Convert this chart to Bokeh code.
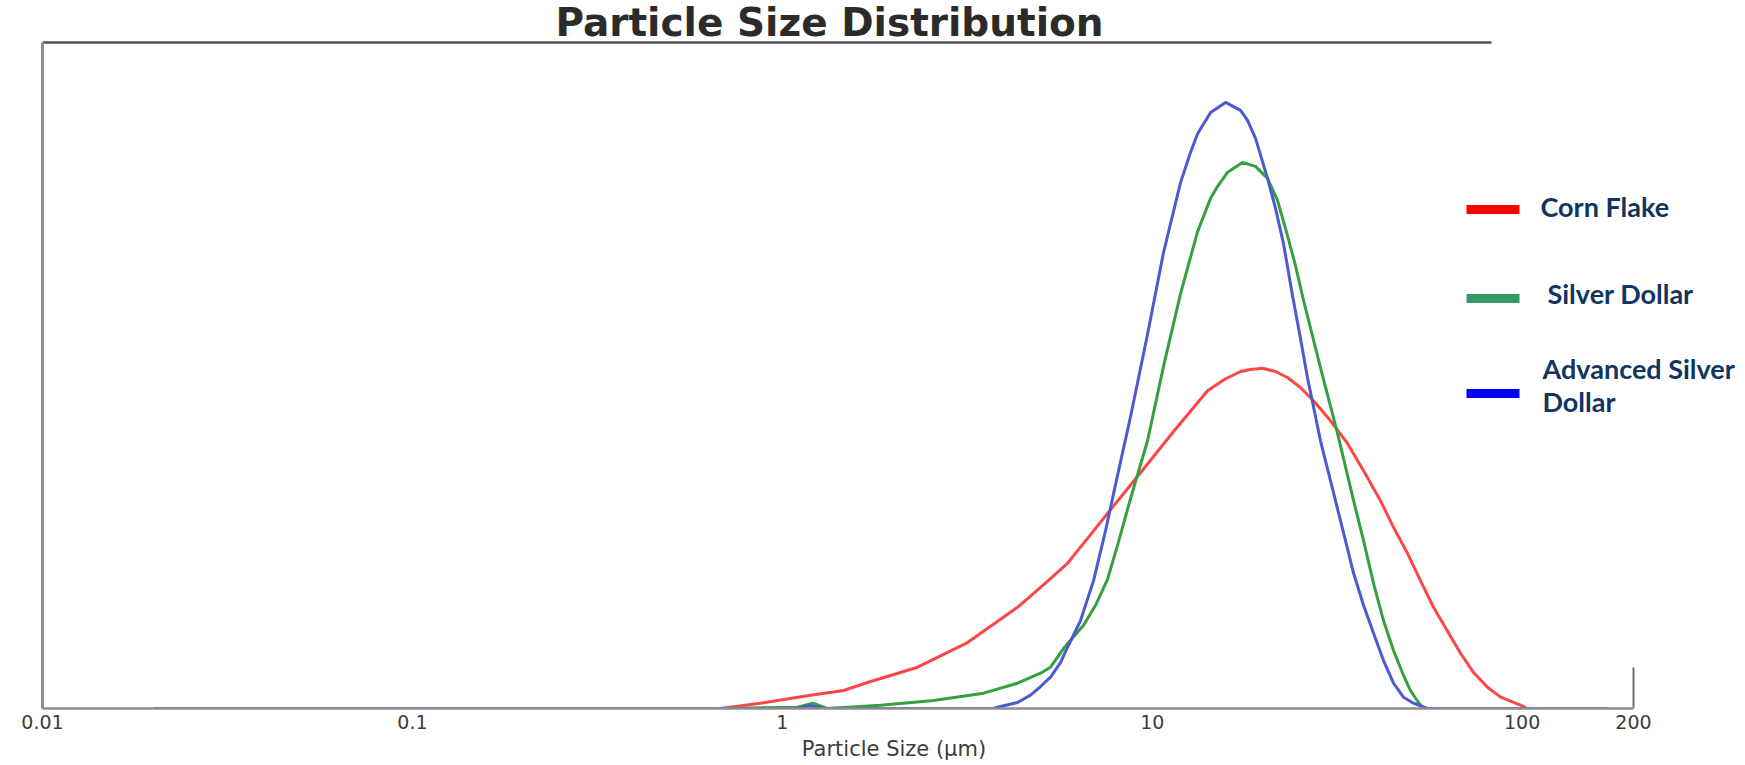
import math
from bokeh.plotting import figure
from bokeh.models import Range1d, FixedTicker, Label, BoxAnnotation
from bokeh.embed import file_html
from bokeh.resources import INLINE

# ---------------- data ----------------
title_text = "Particle Size Distribution"
x_axis_title = "Particle Size (µm)"
tick_values = [0.01, 0.1, 1, 10, 100, 200]
tick_labels = ["0.01", "0.1", "1", "10", "100", "200"]

series_names = ["Corn Flake", "Silver Dollar", "Advanced Silver Dollar"]
series_colors = ["#ff4646", "#35a03f", "#4a5ad2"]
legend_colors = ["#ff0000", "#339966", "#0000ff"]

# particle size (µm) and volume (%)
corn_flake_size = [0.681, 0.873, 1.192, 1.464, 1.699, 2.321, 3.167, 4.323, 4.989, 5.902,
                   6.812, 7.571, 9.296, 11.42, 14.11, 15.78, 17.33, 18.44, 19.87, 21.54,
                   23.21, 25.16, 27.29, 30.34, 33.72, 37.26, 41.41, 44.90, 48.98, 53.10,
                   57.58, 62.84, 68.14, 73.90, 80.62, 87.43, 99.0, 103.4]
corn_flake_vol = [0.0, 0.08, 0.20, 0.27, 0.39, 0.62, 0.99, 1.52, 1.82, 2.18,
                  2.61, 2.93, 3.54, 4.16, 4.77, 4.95, 5.06, 5.09, 5.11, 5.06,
                  4.97, 4.82, 4.62, 4.32, 3.98, 3.57, 3.12, 2.72, 2.33, 1.92,
                  1.52, 1.16, 0.83, 0.54, 0.32, 0.17, 0.05, 0.0]

silver_dollar_size = [0.681, 1.10, 1.21, 1.32, 1.843, 2.563, 3.499, 4.323, 4.989, 5.309,
                      5.756, 6.521, 7.027, 7.571, 8.057, 8.736, 9.712, 10.73, 11.93, 13.26,
                      14.38, 15.02, 15.98, 17.54, 19.02, 20.50, 21.81, 23.21, 24.39, 25.64,
                      28.50, 31.69, 35.02, 37.26, 39.65, 42.19, 44.90, 47.77, 49.90, 52.44,
                      54.11]
silver_dollar_vol = [0.0, 0.02, 0.08, 0.0, 0.05, 0.12, 0.23, 0.38, 0.53, 0.62,
                     0.90, 1.25, 1.55, 1.94, 2.45, 3.15, 4.02, 5.14, 6.23, 7.16,
                     7.66, 7.84, 8.05, 8.20, 8.14, 7.96, 7.63, 7.10, 6.65, 6.13,
                     5.12, 4.13, 3.12, 2.52, 1.88, 1.32, 0.87, 0.50, 0.27, 0.09,
                     0.0]

adv_silver_size = [0.02, 0.681, 1.10, 1.19, 1.30, 3.72, 3.889, 4.323, 4.688, 4.989,
                   5.309, 5.650, 5.902, 6.400, 6.940, 7.478, 8.057, 8.736, 9.712, 10.73,
                   11.93, 12.69, 13.26, 14.38, 15.78, 17.33, 18.10, 19.02, 20.50, 21.54,
                   22.64, 23.94, 25.16, 26.28, 28.50, 30.90, 33.30, 35.02, 37.26, 39.65,
                   42.19, 44.90, 47.77, 50.84, 55.47, 171.0]
adv_silver_vol = [0.0, 0.0, 0.0, 0.04, 0.0, 0.0, 0.03, 0.09, 0.20, 0.33,
                  0.47, 0.69, 0.92, 1.32, 1.92, 2.67, 3.50, 4.38, 5.62, 6.85,
                  7.90, 8.35, 8.63, 8.95, 9.10, 8.98, 8.83, 8.56, 7.96, 7.51,
                  6.98, 6.20, 5.56, 4.97, 4.02, 3.24, 2.52, 2.03, 1.55, 1.13,
                  0.72, 0.38, 0.17, 0.08, 0.0, 0.0]

sizes = [corn_flake_size, silver_dollar_size, adv_silver_size]
vols = [corn_flake_vol, silver_dollar_vol, adv_silver_vol]

# ---------------- layout (canvas pixels; Bokeh's page has no body margin) ----------------
W, H = 1745, 765
AX_LEFT, AX_RIGHT, AX_TOP, AX_BOTTOM = 42, 1633, 42, 708   # drawn axes box
TOP_LINE_END = 1491                          # top border stops here
RIGHT_MARK = 41                              # height of the mark at 200

x_lo, x_hi = tick_values[0], tick_values[-1]
y_lo, y_hi = 0.0, 10.0
px_per_decade = (AX_RIGHT - AX_LEFT) / math.log10(x_hi / x_lo)
x_end = x_hi * 10 ** ((W - AX_RIGHT) / px_per_decade)
y_end = y_hi * AX_BOTTOM / (AX_BOTTOM - AX_TOP)
top_end = x_lo * 10 ** ((TOP_LINE_END - AX_LEFT) / px_per_decade)
mark_top = y_hi * RIGHT_MARK / (AX_BOTTOM - AX_TOP)

p = figure(width=W, height=H, x_axis_type="log",
           x_range=Range1d(x_lo, x_end), y_range=Range1d(y_lo, y_end),
           output_backend="svg", toolbar_location=None,
           min_border_left=AX_LEFT, min_border_top=0,
           min_border_right=0, min_border_bottom=H - AX_BOTTOM)
p.xgrid.visible = False
p.ygrid.visible = False
p.outline_line_color = None
p.background_fill_color = "white"
p.border_fill_color = "white"

ax = p.xaxis[0]
ax.bounds = (x_lo, x_hi)
ax.ticker = FixedTicker(ticks=tick_values)
ax.major_label_overrides = dict(zip(tick_values, tick_labels))
ax.major_tick_line_color = None
ax.minor_tick_line_color = None
ax.major_tick_out = 0
ax.major_tick_in = 0
ax.minor_tick_out = 0
ax.minor_tick_in = 0
ax.axis_line_color = "#8e8e8e"
ax.axis_line_width = 2.5
ax.major_label_text_font = "DejaVu Sans"
ax.major_label_text_font_size = "19px"
ax.major_label_text_color = "#3c3c3c"
ax.major_label_standoff = 6
ax.axis_label = x_axis_title
ax.axis_label_text_font = "DejaVu Sans"
ax.axis_label_text_font_size = "21px"
ax.axis_label_text_font_style = "normal"
ax.axis_label_text_color = "#3c3c3c"
ax.axis_label_standoff = 5

ay = p.yaxis[0]
ay.bounds = (y_lo, y_hi)
ay.ticker = FixedTicker(ticks=[])
ay.major_label_text_font_size = "0px"
ay.major_tick_line_color = None
ay.minor_tick_line_color = None
ay.major_tick_out = 0
ay.minor_tick_out = 0
ay.axis_line_color = "#8e8e8e"
ay.axis_line_width = 3

# top border line (stops short, as in the original) and short end mark at 200
p.segment(x0=[x_lo], y0=[y_hi], x1=[top_end], y1=[y_hi], line_color="#555555", line_width=2.5)
p.segment(x0=[x_hi], y0=[y_lo], x1=[x_hi], y1=[mark_top], line_color="#707070", line_width=2)

# curves
for xs, ys, c in zip(sizes, vols, series_colors):
    p.line(xs, ys, line_color=c, line_width=3, line_join="round")


def sx(ref_x):
    return ref_x - AX_LEFT


def sy(ref_y):
    return AX_BOTTOM - ref_y


# title
p.add_layout(Label(x=sx(829), y=sy(22), x_units="screen", y_units="screen",
                   text=title_text, text_font="DejaVu Sans", text_font_style="bold",
                   text_font_size="39px", text_color="#2b2b2b",
                   text_align="center", text_baseline="middle"))

# legend
bar_y = [209, 298, 393]
text_lines = [["Corn Flake"], ["Silver Dollar"], ["Advanced Silver", "Dollar"]]
text_y = [[206], [293], [368, 401]]
text_x = [1540, 1547, 1542]
for c, by, lines, tys, tx in zip(legend_colors, bar_y, text_lines, text_y, text_x):
    p.add_layout(BoxAnnotation(left=sx(1466), right=sx(1519), top=sy(by - 4.5), bottom=sy(by + 4.5),
                               left_units="screen", right_units="screen",
                               top_units="screen", bottom_units="screen",
                               fill_color=c, fill_alpha=1.0, line_color=None))
    for ln, ty in zip(lines, tys):
        p.add_layout(Label(x=sx(tx), y=sy(ty), x_units="screen", y_units="screen",
                           text=ln, text_font="Lato", text_font_style="bold",
                           text_font_size="27px", text_color="#10355f",
                           text_align="left", text_baseline="middle"))

open("out.html", "w").write(file_html(p, INLINE))
